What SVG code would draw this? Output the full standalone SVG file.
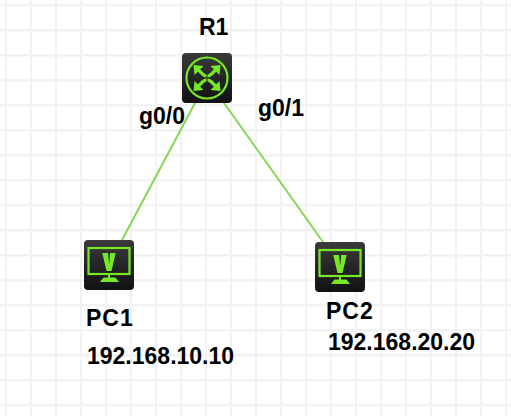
<svg xmlns="http://www.w3.org/2000/svg" width="511" height="416" viewBox="0 0 511 416">
<defs>
<linearGradient id="dark" x1="0" y1="0" x2="0" y2="1"><stop offset="0" stop-color="#3a3a3a"/><stop offset="1" stop-color="#111"/></linearGradient>
<pattern id="grid" width="25" height="25" patternUnits="userSpaceOnUse" x="0" y="0">
<rect x="5" y="0" width="2" height="25" fill="#f2f2f2"/><rect x="0" y="4" width="25" height="2.5" fill="#f2f2f2"/>
</pattern>
<g id="pc">
<rect x="0" y="0" width="50" height="50" rx="4" fill="url(#dark)"/>
<rect x="4.500" y="8" width="41" height="26" fill="none" stroke="#76e827" stroke-width="2.200"/>
<path d="M18.300 13H24L25.200 24 26.200 13H31.700L27.500 31H22.500Z" fill="#76e827"/>
<path d="M24 34h2v3.500h5.500L35 42H16l3.500-4.500H24z" fill="#76e827"/>
</g>
<g id="arrow">
<path d="M0 0L10 1 7 4 1 10 0 0Z" fill="#76e827"/>
<path d="M3 3L9 9Q11 11 13 11" fill="none" stroke="#76e827" stroke-width="3.200"/>
</g>
</defs>
<style>
.label{font-family:"Liberation Sans",Arial,sans-serif;font-weight:700;font-size:23px;fill:#000}
.wide{letter-spacing:1px}
.link{stroke:#88d652;stroke-width:2;fill:none}
</style>
<rect width="511" height="416" fill="#fff"/>
<rect width="511" height="416" fill="url(#grid)"/>
<g id="connectors">
<line class="link" x1="195" y1="103" x2="122" y2="240"/>
<line class="link" x1="224" y1="103" x2="323" y2="242"/>
</g>
<g id="R1">
<rect x="182" y="53" width="50" height="50" rx="4" fill="url(#dark)"/>
<circle cx="207" cy="78" r="20.500" fill="none" stroke="#76e827" stroke-width="2.200"/>
<use href="#arrow" transform="translate(193.500 65)"/>
<use href="#arrow" transform="translate(220.500 65) scale(-1 1)"/>
<use href="#arrow" transform="translate(193.500 91) scale(1 -1)"/>
<use href="#arrow" transform="translate(220.500 91) scale(-1 -1)"/>
<text class="label" x="199" y="35">R1</text>
</g>
<g id="PC1">
<use href="#pc" x="84" y="240"/>
<text class="label wide" x="86" y="326">PC1</text>
<text class="label" x="87" y="364">192.168.10.10</text>
</g>
<g id="PC2">
<use href="#pc" x="315" y="242"/>
<text class="label wide" x="326" y="319">PC2</text>
<text class="label" x="328" y="350">192.168.20.20</text>
</g>
<g id="link-labels">
<text class="label" x="139" y="124">g0/0</text>
<text class="label" x="258" y="116">g0/1</text>
</g>
</svg>
